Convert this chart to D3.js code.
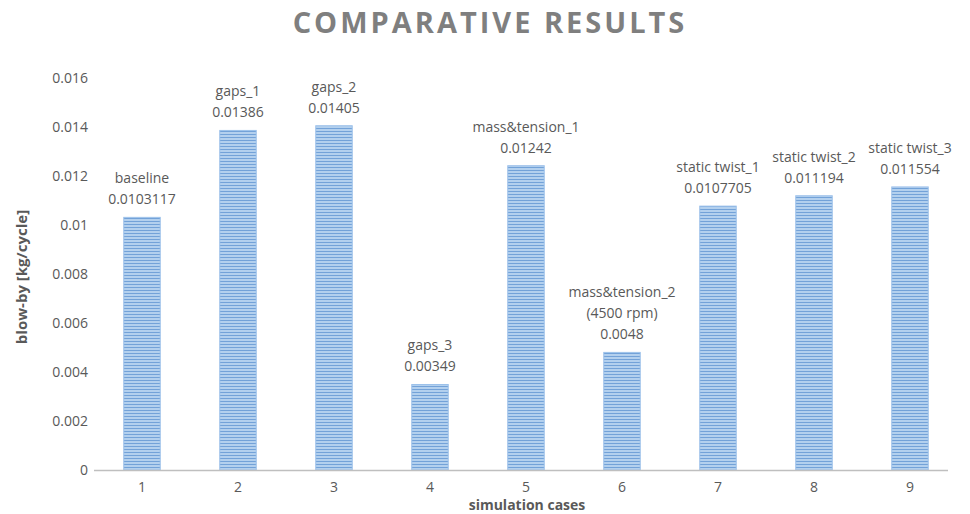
<!DOCTYPE html>
<html>
<head>
<meta charset="utf-8">
<script src="https://cdn.jsdelivr.net/npm/d3@7"></script>
<style>
  html, body { margin: 0; padding: 0; background: #fff; }
  svg { display: block; font-family: "Open Sans", "Noto Sans", sans-serif; }
</style>
</head>
<body>
<svg id="chart" width="970" height="514"></svg>
<script>
// Simulation cases and their blow-by results
const cases = ["1", "2", "3", "4", "5", "6", "7", "8", "9"];
const blowBy = [0.0103117, 0.01386, 0.01405, 0.00349, 0.01242, 0.0048, 0.0107705, 0.011194, 0.011554];
const caseNames = [
  ["baseline"],
  ["gaps_1"],
  ["gaps_2"],
  ["gaps_3"],
  ["mass&tension_1"],
  ["mass&tension_2", "(4500 rpm)"],
  ["static twist_1"],
  ["static twist_2"],
  ["static twist_3"]
];
const valueLabels = ["0.0103117", "0.01386", "0.01405", "0.00349", "0.01242", "0.0048", "0.0107705", "0.011194", "0.011554"];
const yTicks = [0, 0.002, 0.004, 0.006, 0.008, 0.01, 0.012, 0.014, 0.016];

const svg = d3.select("#chart");
const textColor = "#595959";

// Striped fill for the bars
const defs = svg.append("defs");
const pat = defs.append("pattern")
  .attr("id", "stripes")
  .attr("patternUnits", "userSpaceOnUse")
  .attr("width", 6).attr("height", 3);
pat.append("rect").attr("width", 6).attr("height", 3).attr("fill", "#b3d0ee");
pat.append("rect").attr("y", 2).attr("width", 6).attr("height", 1).attr("fill", "#73a2d8");

const x = d3.scaleBand().domain(cases).range([94, 958]).paddingInner(0.62).paddingOuter(0.31);
const y = d3.scaleLinear().domain([0, 0.016]).range([470, 78]);

// Title
svg.append("text")
  .attr("x", 490).attr("y", 33)
  .attr("text-anchor", "middle")
  .attr("font-size", 29).attr("font-weight", 700)
  .attr("letter-spacing", 3)
  .attr("fill", "#7f7f7f")
  .text("COMPARATIVE RESULTS");

// Y axis (labels only)
const yAxis = svg.append("g")
  .attr("transform", "translate(88,0)")
  .call(d3.axisLeft(y).tickValues(yTicks).tickSize(0).tickPadding(0)
    .tickFormat(d => d === 0 ? "0" : String(+d.toFixed(3))));
yAxis.select(".domain").remove();
yAxis.selectAll("text").attr("font-size", 14).attr("fill", textColor)
  .attr("font-family", "Open Sans, sans-serif");

// Bars
svg.append("g").selectAll("rect")
  .data(cases)
  .join("rect")
  .attr("x", d => x(d))
  .attr("width", x.bandwidth())
  .attr("y", (d, i) => y(blowBy[i]))
  .attr("height", (d, i) => y(0) - y(blowBy[i]))
  .attr("fill", "url(#stripes)")
  .attr("stroke", "#9cc1ea")
  .attr("stroke-width", 1);

// X axis
const xAxis = svg.append("g")
  .attr("transform", `translate(0,${y(0)})`)
  .call(d3.axisBottom(x).tickSize(0).tickPadding(12));
xAxis.select(".domain").attr("stroke", "#bfbfbf").attr("stroke-width", 1.5)
  .attr("d", "M94,0.5H948");
xAxis.selectAll("text").attr("font-size", 14).attr("fill", textColor)
  .attr("font-family", "Open Sans, sans-serif");

// Data labels above each bar: name line(s) then value
const labels = svg.append("g").attr("font-size", 14).attr("fill", textColor).attr("text-anchor", "middle");
cases.forEach((c, i) => {
  const cx = x(c) + x.bandwidth() / 2;
  const top = y(blowBy[i]);
  const lines = caseNames[i].concat([valueLabels[i]]);
  lines.forEach((t, k) => {
    labels.append("text")
      .attr("x", cx)
      .attr("y", top - 13 - (lines.length - 1 - k) * 21)
      .text(t);
  });
});

// Axis titles
svg.append("text")
  .attr("x", 527).attr("y", 510)
  .attr("text-anchor", "middle")
  .attr("font-size", 14).attr("font-weight", 700)
  .attr("fill", textColor)
  .text("simulation cases");

svg.append("text")
  .attr("transform", "translate(27,277) rotate(-90)")
  .attr("text-anchor", "middle")
  .attr("font-size", 15).attr("font-weight", 700)
  .attr("fill", textColor)
  .text("blow-by [kg/cycle]");
</script>
</body>
</html>
